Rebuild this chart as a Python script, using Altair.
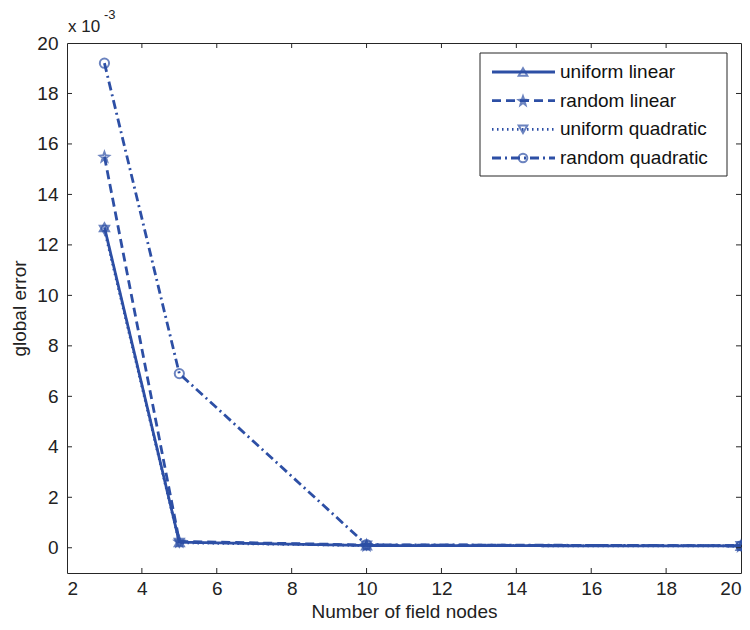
import altair as alt
import pandas as pd

# ---- data ----
nodes = [3, 5, 10, 20]
series_names = ["uniform linear", "random linear", "uniform quadratic", "random quadratic"]
uniform_linear = [12.7, 0.22, 0.09, 0.07]
random_linear = [15.5, 0.25, 0.11, 0.08]
uniform_quadratic = [12.6, 0.2, 0.09, 0.07]
random_quadratic = [19.2, 6.9, 0.12, 0.08]
x_ticks = [2, 4, 6, 8, 10, 12, 14, 16, 18, 20]
y_ticks = [0, 2, 4, 6, 8, 10, 12, 14, 16, 18, 20]

W, H = 674, 530
BLUE = "#2d4fa5"
FONT = "Liberation Sans, Arial, sans-serif"
FS = 19

rows = []
for name, vals in zip(series_names, [uniform_linear, random_linear, uniform_quadratic, random_quadratic]):
    for xv, yv in zip(nodes, vals):
        rows.append({"series": name, "nodes": xv, "err": yv})
df = pd.DataFrame(rows)

xscale = alt.Scale(domain=[2, 20], nice=False, zero=False)
yscale = alt.Scale(domain=[-1, 20], nice=False, zero=False)
dash_scale = alt.Scale(domain=series_names, range=[[1, 0], [9, 5], [1.5, 3.5], [9, 4, 2, 4]])
shape_scale = alt.Scale(domain=series_names, range=["triangle-up", "M0,-1L0.25,-0.3L1,-0.2L0.4,0.25L0.6,1L0,0.55L-0.6,1L-0.4,0.25L-1,-0.2L-0.25,-0.3Z", "triangle-down", "circle"])
width_scale = alt.Scale(domain=series_names, range=[2.8, 2.8, 2.0, 1.6])

X = alt.X("nodes:Q", scale=xscale,
          axis=alt.Axis(values=x_ticks, title="Number of field nodes", grid=False, ticks=False,
                        domain=False, labelPadding=6, titlePadding=4))
Y = alt.Y("err:Q", scale=yscale,
          axis=alt.Axis(values=y_ticks, title="global error", grid=False, ticks=False,
                        domain=False, labelPadding=9, titlePadding=7))

lines = alt.Chart(df).mark_line(color=BLUE).encode(
    x=X, y=Y,
    strokeDash=alt.StrokeDash("series:N", scale=dash_scale, legend=None),
    strokeWidth=alt.StrokeWidth("series:N", scale=width_scale, legend=None),
    detail="series:N",
    order=alt.Order("nodes:Q"),
)
points = alt.Chart(df).mark_point(color=BLUE, filled=False, size=85, strokeWidth=2).encode(
    x="nodes:Q", y="err:Q",
    shape=alt.Shape("series:N", scale=shape_scale, legend=None),
)

xt = pd.DataFrame({"v": x_ticks[1:-1]})
yt = pd.DataFrame({"v": y_ticks[:-1]})
tick_col = "#262626"
xb = alt.Chart(xt).mark_rule(color=tick_col).encode(x="v:Q", y=alt.value(H - 5), y2=alt.value(H))
xtp = alt.Chart(xt).mark_rule(color=tick_col).encode(x="v:Q", y=alt.value(0), y2=alt.value(5))
yl = alt.Chart(yt).mark_rule(color=tick_col).encode(y="v:Q", x=alt.value(0), x2=alt.value(5))
yr = alt.Chart(yt).mark_rule(color=tick_col).encode(y="v:Q", x=alt.value(W - 5), x2=alt.value(W))

main = alt.layer(lines, points, xb, xtp, yl, yr)

# ---- exponent label ----
expo = alt.Chart(pd.DataFrame({"t": ["x 10"]})).mark_text(
    align="left", baseline="alphabetic", fontSize=17, font=FONT, color="#222"
).encode(text="t:N", x=alt.value(1), y=alt.value(-11))
expo2 = alt.Chart(pd.DataFrame({"t": ["-3"]})).mark_text(
    align="left", baseline="alphabetic", fontSize=13, font=FONT, color="#222"
).encode(text="t:N", x=alt.value(37), y=alt.value(-24))

# ---- legend ----
leg = pd.DataFrame({"series": series_names})
ly = alt.Y("series:N", scale=alt.Scale(type="point", domain=series_names, range=[29, 115], padding=0), axis=None)
box = alt.Chart(pd.DataFrame({"a": [0]})).mark_rect(fill="white", stroke="#262626", strokeWidth=1).encode(
    x=alt.value(413), x2=alt.value(660), y=alt.value(10), y2=alt.value(133))
leg_lines = alt.Chart(leg).mark_rule(color=BLUE).encode(
    x=alt.value(425), x2=alt.value(488), y=ly,
    strokeDash=alt.StrokeDash("series:N", scale=dash_scale, legend=None),
    strokeWidth=alt.StrokeWidth("series:N", scale=width_scale, legend=None))
leg_pts = alt.Chart(leg).mark_point(color=BLUE, filled=False, size=75, strokeWidth=2).encode(
    x=alt.value(456), y=ly, shape=alt.Shape("series:N", scale=shape_scale, legend=None))
leg_txt = alt.Chart(leg).mark_text(align="left", baseline="middle", fontSize=FS, font=FONT, color="#111").encode(
    x=alt.value(493), y=ly, text="series:N")
legend = alt.layer(box, leg_lines, leg_pts, leg_txt)

chart = alt.layer(main, expo, expo2, legend).resolve_scale(
    y="independent", x="independent", strokeDash="independent", shape="independent", strokeWidth="independent"
).properties(
    width=W, height=H,
    autosize=alt.AutoSizeParams(type="none"),
    padding={"left": 59, "top": 35, "right": 1, "bottom": 49},
).configure(background="white").configure_view(stroke="#262626", strokeWidth=1).configure_axis(
    labelFont=FONT, titleFont=FONT, labelFontSize=FS, titleFontSize=FS,
    labelColor="#222", titleColor="#222", titleFontWeight="normal",
)

chart.save("out.html", embed_options={"renderer": "svg", "actions": False})
